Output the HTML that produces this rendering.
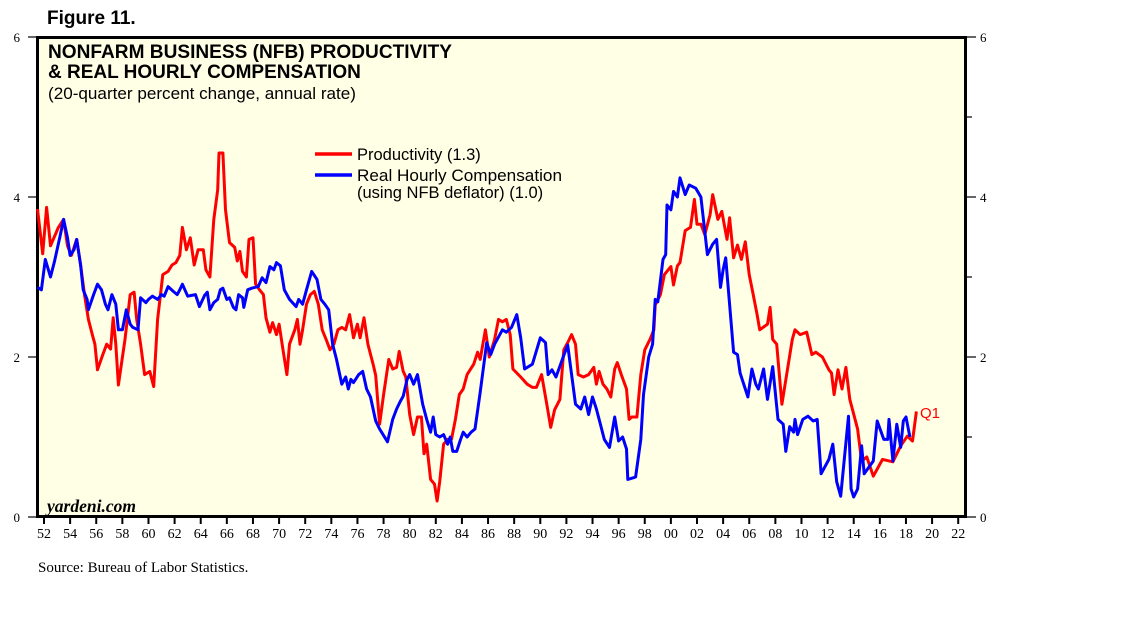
<!DOCTYPE html>
<html><head><meta charset="utf-8"><style>
body{margin:0;background:#fff;width:1138px;height:621px;overflow:hidden}
svg{display:block}
</style></head><body>
<svg id="chart" width="1138" height="621" viewBox="0 0 1138 621" xmlns="http://www.w3.org/2000/svg">
<text x="47" y="24" font-family="Liberation Sans, sans-serif" font-weight="bold" font-size="19">Figure 11.</text>
<rect x="37.5" y="37.5" width="928" height="479" fill="#FFFFE6" stroke="#000" stroke-width="3"/>
<g id="axes"></g>
<g id="series"></g>
<text x="48" y="58" font-family="Liberation Sans, sans-serif" font-weight="bold" font-size="19" textLength="404" lengthAdjust="spacingAndGlyphs">NONFARM BUSINESS (NFB) PRODUCTIVITY</text>
<text x="48" y="78" font-family="Liberation Sans, sans-serif" font-weight="bold" font-size="19">&amp; REAL HOURLY COMPENSATION</text>
<text x="48" y="99" font-family="Liberation Sans, sans-serif" font-size="17" textLength="308" lengthAdjust="spacingAndGlyphs">(20-quarter percent change, annual rate)</text>
<g font-family="Liberation Sans, sans-serif" font-size="16.5">
<line x1="315" y1="154" x2="352" y2="154" stroke="#ff0000" stroke-width="3.5"/>
<text x="357" y="160">Productivity (1.3)</text>
<line x1="315" y1="175" x2="352" y2="175" stroke="#0000ff" stroke-width="3.5"/>
<text x="357" y="181" textLength="205" lengthAdjust="spacingAndGlyphs">Real Hourly Compensation</text>
<text x="357" y="198">(using NFB deflator) (1.0)</text>
</g>
<text x="920" y="418" fill="#ff0000" font-family="Liberation Sans, sans-serif" font-size="15">Q1</text>
<text x="47" y="512" font-family="Liberation Serif, serif" font-style="italic" font-weight="bold" font-size="17.5">yardeni.com</text>
<text x="38" y="572" font-family="Liberation Serif, serif" font-size="15">Source: Bureau of Labor Statistics.</text>
</svg>
<script>
const prodYears=[1951.5,1951.9,1952.2,1952.5,1953.1,1953.5,1953.8,1954.1,1954.5,1954.8,1955.1,1955.4,1955.7,1955.9,1956.1,1956.5,1956.8,1957.1,1957.3,1957.5,1957.7,1958.2,1958.6,1958.9,1959.1,1959.4,1959.7,1960.1,1960.4,1960.7,1961.1,1961.5,1961.8,1962.1,1962.4,1962.6,1962.9,1963.2,1963.5,1963.8,1964.2,1964.4,1964.7,1965.0,1965.3,1965.4,1965.7,1965.9,1966.2,1966.6,1966.8,1967.0,1967.2,1967.5,1967.7,1968.0,1968.2,1968.5,1968.8,1969.0,1969.3,1969.5,1969.8,1970.0,1970.3,1970.6,1970.8,1971.2,1971.4,1971.6,1971.8,1972.1,1972.4,1972.7,1973.0,1973.3,1973.6,1973.9,1974.2,1974.5,1974.8,1975.1,1975.4,1975.7,1976.0,1976.2,1976.5,1976.8,1977.2,1977.4,1977.7,1978.0,1978.4,1978.7,1979.0,1979.2,1979.5,1979.7,1980.0,1980.3,1980.6,1980.9,1981.1,1981.3,1981.6,1981.9,1982.1,1982.3,1982.6,1982.9,1983.2,1983.5,1983.8,1984.1,1984.4,1984.9,1985.2,1985.4,1985.8,1986.1,1986.5,1986.8,1987.1,1987.4,1987.7,1987.9,1988.5,1989.0,1989.4,1989.7,1990.1,1990.5,1990.8,1991.1,1991.5,1991.8,1992.1,1992.4,1992.7,1992.9,1993.3,1993.7,1994.1,1994.3,1994.5,1994.8,1995.1,1995.4,1995.7,1995.9,1996.2,1996.6,1996.8,1997.0,1997.4,1997.7,1998.0,1998.4,1998.7,1998.8,1999.2,1999.5,2000.0,2000.2,2000.5,2000.7,2001.1,2001.5,2001.8,2002.0,2002.3,2002.6,2003.0,2003.2,2003.6,2003.9,2004.3,2004.5,2004.8,2005.1,2005.4,2005.7,2006.0,2006.3,2006.6,2006.8,2007.4,2007.6,2007.8,2008.1,2008.5,2009.3,2009.5,2009.9,2010.4,2010.8,2011.1,2011.6,2012.1,2012.3,2012.5,2012.8,2013.1,2013.4,2013.7,2014.3,2014.6,2015.0,2015.5,2016.2,2017.0,2017.6,2018.1,2018.5,2018.8];
const prodValues=[3.85,3.29,3.87,3.39,3.62,3.72,3.39,3.27,3.47,3.15,2.78,2.47,2.28,2.16,1.84,2.03,2.16,2.1,2.49,2.16,1.65,2.22,2.78,2.81,2.47,2.16,1.78,1.82,1.63,2.47,3.03,3.07,3.15,3.18,3.27,3.62,3.34,3.49,3.15,3.34,3.34,3.09,3.0,3.72,4.09,4.55,4.55,3.84,3.43,3.37,3.2,3.32,3.07,3.0,3.47,3.49,2.91,2.84,2.78,2.49,2.31,2.43,2.28,2.41,2.09,1.78,2.16,2.34,2.47,2.16,2.34,2.66,2.78,2.82,2.66,2.34,2.22,2.09,2.16,2.34,2.37,2.34,2.53,2.24,2.41,2.24,2.49,2.16,1.91,1.77,1.16,1.53,1.97,1.85,1.87,2.07,1.82,1.75,1.28,1.03,1.25,1.25,0.79,0.91,0.47,0.41,0.2,0.44,0.91,0.97,0.97,1.22,1.53,1.6,1.78,1.91,2.06,1.97,2.34,2.0,2.22,2.47,2.44,2.47,2.28,1.85,1.75,1.66,1.62,1.62,1.78,1.41,1.12,1.34,1.47,2.09,2.18,2.28,2.16,1.78,1.75,1.78,1.87,1.66,1.82,1.66,1.6,1.5,1.85,1.93,1.78,1.6,1.22,1.25,1.25,1.78,2.09,2.22,2.34,2.65,2.78,3.03,3.13,2.9,3.14,3.18,3.58,3.62,3.97,3.66,3.66,3.53,3.78,4.03,3.72,3.82,3.47,3.74,3.24,3.4,3.22,3.44,3.03,2.78,2.53,2.34,2.41,2.62,2.22,2.16,1.41,2.22,2.34,2.28,2.31,2.03,2.06,2.0,1.84,1.8,1.53,1.84,1.6,1.87,1.47,1.1,0.7,0.75,0.51,0.72,0.69,0.89,1.01,0.95,1.32];
const compYears=[1951.5,1951.8,1952.1,1952.5,1952.8,1953.2,1953.5,1953.8,1954.0,1954.3,1954.5,1954.8,1955.0,1955.3,1955.4,1955.8,1956.1,1956.4,1956.7,1956.9,1957.2,1957.5,1957.7,1958.0,1958.3,1958.6,1958.8,1959.2,1959.4,1959.8,1960.0,1960.3,1960.7,1961.0,1961.2,1961.5,1961.9,1962.2,1962.4,1962.6,1963.0,1963.3,1963.6,1963.9,1964.3,1964.5,1964.7,1965.0,1965.3,1965.5,1965.7,1966.0,1966.2,1966.5,1966.7,1966.9,1967.2,1967.3,1967.6,1967.9,1968.4,1968.7,1969.0,1969.3,1969.6,1969.8,1970.1,1970.4,1970.8,1971.3,1971.5,1971.8,1972.1,1972.5,1972.9,1973.2,1973.5,1973.8,1974.1,1974.4,1974.8,1975.1,1975.3,1975.5,1975.7,1976.1,1976.4,1976.7,1977.0,1977.4,1977.7,1978.3,1978.7,1979.0,1979.3,1979.5,1979.8,1980.0,1980.3,1980.6,1981.0,1981.3,1981.6,1981.8,1982.0,1982.3,1982.6,1982.9,1983.1,1983.3,1983.6,1983.9,1984.1,1984.4,1984.7,1985.0,1985.4,1985.9,1986.2,1986.5,1987.1,1987.4,1987.8,1988.2,1988.5,1988.8,1989.4,1990.0,1990.4,1990.6,1990.9,1991.2,1991.8,1992.1,1992.7,1993.1,1993.4,1993.7,1994.0,1994.3,1994.6,1994.9,1995.3,1995.7,1996.0,1996.3,1996.6,1996.7,1997.3,1997.7,1997.9,1998.3,1998.6,1998.8,1999.0,1999.4,1999.6,1999.7,2000.0,2000.2,2000.5,2000.7,2001.1,2001.4,2001.9,2002.3,2002.8,2003.2,2003.5,2003.8,2004.0,2004.2,2004.8,2005.1,2005.3,2005.6,2005.9,2006.2,2006.5,2006.7,2007.1,2007.4,2007.8,2008.2,2008.6,2008.8,2009.1,2009.4,2009.5,2009.7,2010.1,2010.5,2010.9,2011.2,2011.5,2012.1,2012.4,2012.7,2013.0,2013.6,2013.8,2014.0,2014.3,2014.6,2014.8,2015.5,2015.8,2016.3,2016.6,2016.7,2017.0,2017.3,2017.6,2017.8,2018.0,2018.3,2018.6,2018.8];
const compValues=[2.87,2.84,3.22,3.0,3.19,3.49,3.72,3.49,3.27,3.34,3.47,3.15,2.84,2.72,2.59,2.78,2.91,2.84,2.66,2.59,2.78,2.66,2.34,2.34,2.59,2.41,2.37,2.34,2.74,2.68,2.72,2.76,2.72,2.78,2.76,2.88,2.82,2.78,2.84,2.91,2.76,2.77,2.78,2.63,2.77,2.81,2.59,2.68,2.72,2.84,2.86,2.72,2.74,2.62,2.59,2.78,2.74,2.62,2.84,2.86,2.88,2.99,2.93,3.13,3.09,3.18,3.14,2.84,2.72,2.63,2.72,2.66,2.84,3.07,2.97,2.72,2.66,2.59,2.16,1.97,1.66,1.75,1.6,1.72,1.68,1.78,1.82,1.6,1.5,1.2,1.1,0.94,1.22,1.35,1.45,1.51,1.72,1.78,1.66,1.78,1.41,1.22,1.06,1.25,1.03,1.0,1.03,0.91,1.0,0.82,0.82,0.97,1.06,1.0,1.06,1.1,1.56,2.18,2.03,2.16,2.34,2.31,2.37,2.53,2.24,1.85,1.91,2.24,2.18,1.78,1.84,1.75,2.02,2.15,1.41,1.35,1.5,1.28,1.5,1.35,1.16,0.97,0.87,1.25,0.95,1.0,0.85,0.47,0.5,0.97,1.53,2.0,2.16,2.72,2.69,3.22,3.28,3.9,3.84,4.07,4.0,4.24,4.03,4.15,4.11,4.0,3.28,3.41,3.47,2.87,3.09,3.24,2.06,2.03,1.8,1.65,1.5,1.85,1.66,1.6,1.85,1.47,1.88,1.22,1.16,0.82,1.13,1.06,1.22,1.03,1.22,1.26,1.2,1.22,0.54,0.72,0.91,0.44,0.26,1.26,0.35,0.25,0.35,0.89,0.54,0.7,1.2,0.97,0.97,1.22,0.7,1.16,0.87,1.2,1.25,1.0];
const yTicks=[0,2,4,6];
const xTickYears=[1952,1954,1956,1958,1960,1962,1964,1966,1968,1970,1972,1974,1976,1978,1980,1982,1984,1986,1988,1990,1992,1994,1996,1998,2000,2002,2004,2006,2008,2010,2012,2014,2016,2018,2020,2022];
const xTickLabels=["52","54","56","58","60","62","64","66","68","70","72","74","76","78","80","82","84","86","88","90","92","94","96","98","00","02","04","06","08","10","12","14","16","18","20","22"];

const NS="http://www.w3.org/2000/svg";
function xScale(yr){return 44+(yr-1952)*13.06;}
function yScale(v){return 517-v*80;}
const axes=document.getElementById('axes');
function mk(tag,attrs,parent){const e=document.createElementNS(NS,tag);for(const k in attrs)e.setAttribute(k,attrs[k]);parent.appendChild(e);return e;}
yTicks.forEach(v=>{
  const y=yScale(v);
  const tl=mk('line',{x1:28,y1:y,x2:37,y2:y,stroke:'#000','stroke-width':1.2},axes);
  
  
  const tr=mk('line',{x1:966,y1:y,x2:976,y2:y,stroke:'#000','stroke-width':1.2},axes);
  
  
  const l=mk('text',{x:20,y:y+5,'font-family':'Liberation Serif, serif','font-size':13,'text-anchor':'end'},axes);
  l.textContent=v;
  
  
  const r=mk('text',{x:980,y:y+5,'font-family':'Liberation Serif, serif','font-size':13},axes);
  r.textContent=v;
  
  
});
[1,3,5].forEach(v=>{
  const t=mk('line',{x1:966,y1:yScale(v),x2:972,y2:yScale(v),stroke:'#000','stroke-width':1.2},axes);
  
  
});
xTickYears.forEach((yr,i)=>{
  const x=xScale(yr);
  const t=mk('line',{x1:x,y1:517,x2:x,y2:524,stroke:'#000','stroke-width':2},axes);
  
  
  const l=mk('text',{x:x,y:538,'font-family':'Liberation Serif, serif','font-size':14,'text-anchor':'middle'},axes);
  l.textContent=xTickLabels[i];
  
  
});
const series=document.getElementById('series');
function drawLine(xs,vs,color,name){
  const d=xs.map((yr,i)=>(i?'L':'M')+xScale(yr).toFixed(1)+' '+yScale(vs[i]).toFixed(1)).join(' ');
  const p=mk('path',{d:d,fill:'none',stroke:color,'stroke-width':3,'stroke-linejoin':'round'},series);
  
  
}
drawLine(prodYears,prodValues,'#ff0000','productivity-line');
drawLine(compYears,compValues,'#0000ff','real-compensation-line');
</script>
</body></html>
